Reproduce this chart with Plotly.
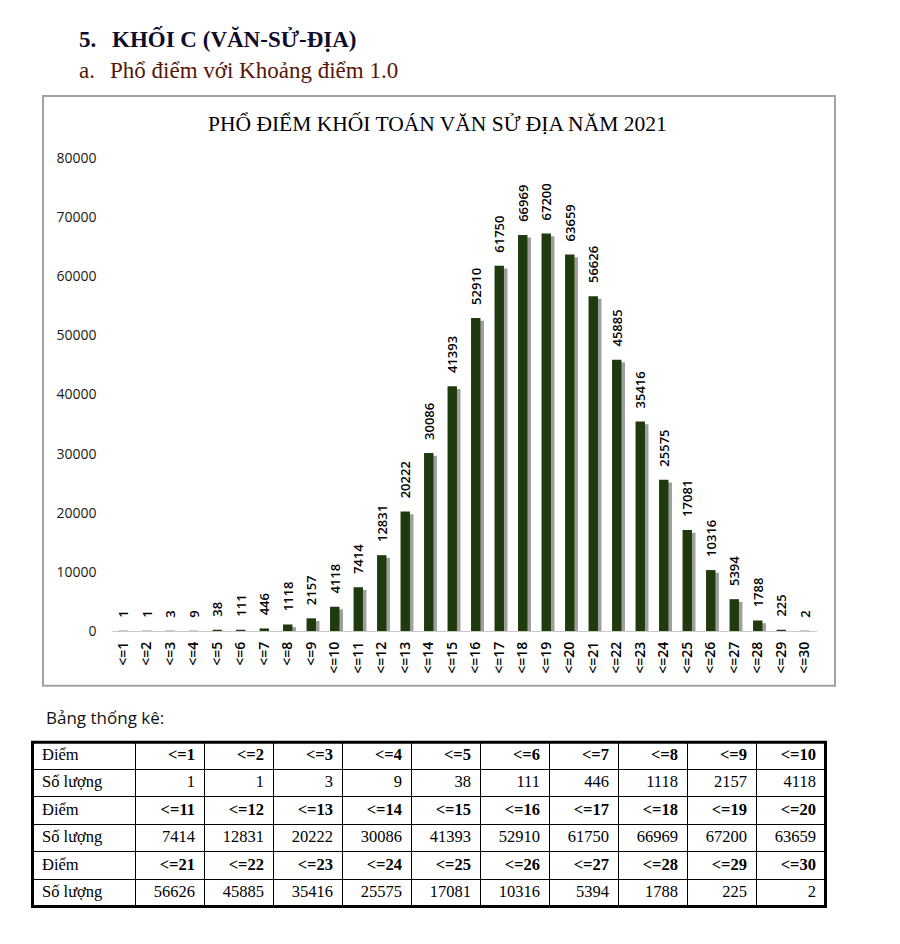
import plotly.graph_objects as go

W, H = 900, 944

# ---------------- data ----------------
categories = ["<=%d" % i for i in range(1, 31)]
counts = [1, 1, 3, 9, 38, 111, 446, 1118, 2157, 4118,
          7414, 12831, 20222, 30086, 41393, 52910, 61750, 66969, 67200, 63659,
          56626, 45885, 35416, 25575, 17081, 10316, 5394, 1788, 225, 2]
y_ticks = [0, 10000, 20000, 30000, 40000, 50000, 60000, 70000, 80000]

heading_num = "5."
heading_text = "KHỐI C (VĂN-SỬ-ĐỊA)"
sub_num = "a."
sub_text = "Phổ điểm với Khoảng điểm 1.0"
chart_title = "PHỔ ĐIỂM KHỐI TOÁN VĂN SỬ ĐỊA NĂM 2021"
table_caption = "Bảng thống kê:"
row_label_score = "Điểm"
row_label_count = "Số lượng"

# table geometry (column widths in px, 3 blocks of 10 values)
first_col_w = 102
col_w = 69
n_cols = 10
n_blocks = 3

# page-pixel -> paper fraction (compensates for the page offset seen in the render)
OX, OY, PH = 8.0, 15.6, 928.5


def px(x):
    return (x - OX) / W


def py(y):
    return 1 - (y - OY) / PH


BAR = "#1f3a0c"
SHADOW = "rgba(40,40,40,0.45)"
SANS = "Open Sans"
SERIF = "Liberation Serif"
GAP = "\u00a0\u00a0\u00a0"  # small gap between bar top and its rotated label

fig = go.Figure()

# shadow behind the bars
fig.add_trace(go.Bar(
    x=categories,
    y=[max(v - 450, 0) for v in counts],
    width=0.40, offset=-0.05,
    marker=dict(color=SHADOW, line=dict(width=0)),
    hoverinfo="skip", showlegend=False,
))
# main bars
fig.add_trace(go.Bar(
    x=categories, y=counts,
    width=0.40,
    marker=dict(color=BAR, line=dict(width=0)),
    text=[GAP + str(v) for v in counts],
    textposition="outside", textangle=-90, constraintext="none",
    cliponaxis=False,
    textfont=dict(family=SANS, size=13, color="#000000", weight=600),
    showlegend=False,
))

# ---------------- statistics table on its own axes ----------------
table_w = first_col_w + n_cols * col_w
col_edges = [0] + [first_col_w + k * col_w for k in range(n_cols + 1)]
n_rows = 2 * n_blocks
pad = 9

label_x, label_y, label_t = [], [], []
score_x, score_y, score_t = [], [], []
count_x, count_y, count_t = [], [], []
for b in range(n_blocks):
    r_score = 2 * b + 0.5
    r_count = 2 * b + 1.5
    label_x += [pad, pad]
    label_y += [r_score, r_count]
    label_t += [row_label_score, row_label_count]
    for j in range(n_cols):
        idx = b * n_cols + j
        right = col_edges[j + 2] - pad
        score_x.append(right)
        score_y.append(r_score)
        score_t.append(categories[idx])
        count_x.append(right)
        count_y.append(r_count)
        count_t.append(str(counts[idx]))

tfont = dict(family=SERIF, size=16.5, color="black")
fig.add_trace(go.Scatter(x=label_x, y=label_y, text=label_t, mode="text",
                         textposition="middle right", textfont=tfont,
                         xaxis="x2", yaxis="y2", hoverinfo="skip", showlegend=False))
fig.add_trace(go.Scatter(x=score_x, y=score_y, text=score_t, mode="text",
                         textposition="middle left",
                         textfont=dict(family=SERIF, size=16.5, color="black", weight="bold"),
                         xaxis="x2", yaxis="y2", hoverinfo="skip", showlegend=False))
fig.add_trace(go.Scatter(x=count_x, y=count_y, text=count_t, mode="text",
                         textposition="middle left", textfont=tfont,
                         xaxis="x2", yaxis="y2", hoverinfo="skip", showlegend=False))

annotations = [
    dict(text=heading_num, x=px(77), y=py(37), xanchor="left", yanchor="middle",
         font=dict(family=SERIF, size=23, color="#0d0d2b", weight="bold")),
    dict(text=heading_text, x=px(110), y=py(37), xanchor="left", yanchor="middle",
         font=dict(family=SERIF, size=23, color="#0d0d2b", weight="bold")),
    dict(text=sub_num, x=px(77), y=py(68), xanchor="left", yanchor="middle",
         font=dict(family=SERIF, size=23, color="#561606")),
    dict(text=sub_text, x=px(108), y=py(68), xanchor="left", yanchor="middle",
         font=dict(family=SERIF, size=23, color="#561606")),
    dict(text=chart_title, x=px(437), y=py(122), xanchor="center", yanchor="middle",
         font=dict(family=SERIF, size=21.5, color="#000000")),
    dict(text=table_caption, x=px(44), y=py(718), xanchor="left", yanchor="middle",
         font=dict(family=SANS, size=17, color="#111111")),
]
for a in annotations:
    a.update(xref="paper", yref="paper", showarrow=False)

shapes = [
    # chart frame
    dict(type="rect", x0=px(43), x1=px(835), y0=py(686), y1=py(94),
         line=dict(color="#a3a3a3", width=2), layer="below"),
    # table outer border
    dict(type="rect", x0=px(32.5), x1=px(825.5), y0=py(907.5), y1=py(742.5),
         line=dict(color="black", width=3), layer="above"),
]
for s in shapes:
    s.update(xref="paper", yref="paper")

fig.update_layout(
    width=W, height=H,
    margin=dict(l=0, r=0, t=0, b=0),
    paper_bgcolor="white", plot_bgcolor="white",
    barmode="overlay",
    showlegend=False,
    xaxis=dict(domain=[px(111.5), px(816.5)], type="category",
               tickangle=-90, showgrid=False, zeroline=False,
               showline=True, linecolor="#c8c8c8", linewidth=1,
               ticks="", ticklabelstandoff=4,
               tickfont=dict(family=SANS, size=14, color="#000000", weight=600)),
    yaxis=dict(domain=[py(631), py(156)], range=[0, 80000],
               tickvals=y_ticks, tickformat="d",
               showgrid=False, zeroline=False, showline=False,
               ticks="", ticklabelstandoff=14,
               tickfont=dict(family=SANS, size=14, color="#1a1a1a")),
    xaxis2=dict(domain=[px(33), px(825)], range=[0, table_w], anchor="y2",
                tickvals=col_edges, showticklabels=False, ticks="",
                showgrid=True, gridcolor="black", gridwidth=1,
                zeroline=False, showline=False, fixedrange=True),
    yaxis2=dict(domain=[py(907.5), py(742.5)], range=[n_rows, 0], anchor="x2",
                tickvals=list(range(n_rows + 1)), showticklabels=False, ticks="",
                showgrid=True, gridcolor="black", gridwidth=1,
                zeroline=False, showline=False, fixedrange=True),
    annotations=annotations,
    shapes=shapes,
)

fig.write_html("out.html")
